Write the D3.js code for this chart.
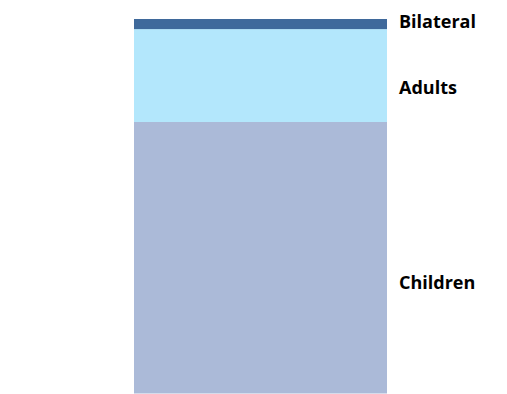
<!DOCTYPE html>
<html>
<head>
<meta charset="utf-8">
<script src="https://cdn.jsdelivr.net/npm/d3@7"></script>
<style>
  body { margin: 0; background: #fff; }
</style>
</head>
<body>
<svg id="chart" width="507" height="394"></svg>
<script>
// stacked share, bottom to top
const categories = ['Children', 'Adults', 'Bilateral'];
const values = [72.5, 24.8, 2.7];
const colors = ['#abbad8', '#b3e7fc', '#3f699b'];
// label baselines sit below the segment middles in the original
const labelShift = [31.5, 18.5, 4];

let svg = d3.select('#chart');
let barTop = 19, barBottom = 393.5;

let yScale = d3.scaleLinear()
    .domain([0, d3.sum(values)])
    .range([barBottom, barTop]);

let xScale = d3.scaleBand()
    .domain(['total'])
    .range([134, 387])
    .padding(0);

let stacked = [];
let acc = 0;
values.forEach(function (v, i) {
    stacked.push({name: categories[i], y0: acc, y1: acc + v, color: colors[i], shift: labelShift[i]});
    acc += v;
});

svg.selectAll('.seg')
    .data(stacked)
    .enter()
    .append('rect')
    .attr('class', 'seg')
    .attr('x', xScale('total'))
    .attr('width', xScale.bandwidth())
    .attr('y', function (d) { return yScale(d.y1); })
    .attr('height', function (d) { return yScale(d.y0) - yScale(d.y1); })
    .style('fill', function (d) { return d.color; });

svg.selectAll('.lbl')
    .data(stacked)
    .enter()
    .append('text')
    .attr('class', 'lbl')
    .attr('x', 399)
    .attr('y', function (d) { return (yScale(d.y0) + yScale(d.y1)) / 2 + d.shift; })
    .style('font-family', '"Open Sans", sans-serif')
    .style('font-weight', 'bold')
    .style('font-size', '18px')
    .style('fill', '#000')
    .text(function (d) { return d.name; });
</script>
</body>
</html>
